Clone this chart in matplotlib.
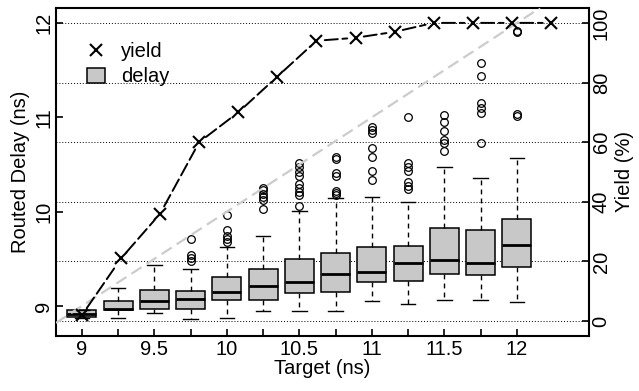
import matplotlib
matplotlib.use('Agg')
import matplotlib.pyplot as plt
import matplotlib.transforms as mtransforms
from matplotlib.lines import Line2D
from matplotlib.patches import Patch

plt.rcParams['font.family'] = ['Liberation Sans', 'DejaVu Sans']

# routed delay per target (ns)
targets = [9.0, 9.25, 9.5, 9.75, 10.0, 10.25, 10.5, 10.75, 11.0, 11.25, 11.5, 11.75, 12.0]
q1 = [8.883, 8.955, 8.965, 8.965, 9.060, 9.060, 9.141, 9.151, 9.251, 9.262, 9.342, 9.329, 9.410]
med = [8.915, 8.970, 9.056, 9.071, 9.148, 9.209, 9.254, 9.336, 9.360, 9.453, 9.488, 9.452, 9.647]
q3 = [8.958, 9.050, 9.166, 9.159, 9.304, 9.392, 9.501, 9.558, 9.622, 9.633, 9.824, 9.806, 9.922]
whislo = [8.875, 8.876, 8.923, 8.865, 8.873, 8.951, 8.951, 8.951, 9.050, 9.024, 9.060, 9.064, 9.046]
whishi = [8.962, 9.194, 9.438, 9.392, 9.622, 9.742, 10.010, 10.145, 10.155, 10.106, 10.474, 10.357, 10.569]
fliers = [
    [],
    [],
    [],
    [9.714, 9.537, 9.505, 9.477],
    [9.961, 9.806, 9.742, 9.710, 9.675],
    [10.025, 10.12, 10.16, 10.19, 10.23, 10.25],
    [10.06, 10.18, 10.21, 10.25, 10.29, 10.38, 10.42, 10.47, 10.52],
    [10.58, 10.56, 10.41, 10.38, 10.22, 10.20, 10.18],
    [10.898, 10.866, 10.834, 10.678, 10.583, 10.431, 10.333],
    [11.0, 10.513, 10.477, 10.435, 10.318, 10.272, 10.237],
    [11.025, 10.954, 10.858, 10.76, 10.731, 10.643],
    [11.58, 11.44, 11.15, 11.10, 11.05, 10.73],
    [11.92, 11.90, 11.03, 11.01],
]

# yield (%)
yield_pct = [2, 21, 36, 60, 70, 82, 94, 95, 97, 100, 100, 100, 100]

xtick_labels = ['9', '', '9.5', '', '10', '', '10.5', '', '11', '', '11.5', '', '12']
delay_ticks = [9, 10, 11, 12]
yield_ticks = [0, 20, 40, 60, 80, 100]

fs = 14.5

fig = plt.figure(figsize=(6.39, 3.91), dpi=100)
rect = [0.0876, 0.1407, 0.8341, 0.8389]
ax = fig.add_axes(rect)
ay = fig.add_axes(rect, facecolor='none')

# horizontal dotted lines at the yield ticks
trans = mtransforms.blended_transform_factory(ax.transAxes, ay.transData)
for v in yield_ticks:
    ax.add_line(Line2D([0, 1], [v, v], transform=trans, color='black',
                       lw=0.7, linestyle=(0, (1, 2)), zorder=0.5))

stats = []
for i in range(len(targets)):
    stats.append(dict(med=med[i], q1=q1[i], q3=q3[i], whislo=whislo[i],
                      whishi=whishi[i], fliers=fliers[i]))
ax.bxp(stats, positions=targets, widths=0.2, capwidths=0.1, patch_artist=True,
       manage_ticks=False,
       boxprops=dict(facecolor='#c8c8c8', edgecolor='black', linewidth=1.1),
       medianprops=dict(color='black', linewidth=2),
       whiskerprops=dict(color='black', linewidth=1, linestyle=(0, (3.5, 3))),
       capprops=dict(color='black', linewidth=1),
       flierprops=dict(marker='o', markerfacecolor='none', markeredgecolor='black',
                       markersize=5.5, markeredgewidth=0.9))

# delay == target reference
ax.axline((targets[0], targets[0]), slope=1, color='#cccccc', lw=1.6,
          dashes=(5.4, 2.7), zorder=3)

ax.set_xlim(8.821, 12.497)
ax.set_ylim(8.682, 12.159)
ax.set_xticks(targets)
ax.set_xticklabels(xtick_labels, fontsize=fs)
ax.set_yticks(delay_ticks)
ax.set_yticklabels([str(t) for t in delay_ticks], fontsize=fs, rotation=90, va='center')
ax.tick_params(direction='in', length=5, width=1.2, pad=3)
ax.tick_params(axis='y', pad=2)
for s in ax.spines.values():
    s.set_linewidth(1.5)
ax.set_xlabel('Target (ns)', fontsize=fs, labelpad=0)
ax.set_ylabel('Routed Delay (ns)', fontsize=fs, labelpad=3)

# yield on its own scale, line broken around the points
for i in range(len(targets) - 1):
    ay.annotate('', xy=(targets[i + 1], yield_pct[i + 1]), xytext=(targets[i], yield_pct[i]),
                arrowprops=dict(arrowstyle='-', color='black', lw=1.4,
                                linestyle=(0, (6.7, 2.4)), shrinkA=6, shrinkB=6))
ay.plot(targets, yield_pct, color='black', ls='none', marker='x', ms=8, mew=1.5)
ay.set_xlim(8.834, 12.243)
ay.set_ylim(-5, 105)
ay.xaxis.set_visible(False)
ay.yaxis.tick_right()
ay.yaxis.set_label_position('right')
ay.set_yticks(yield_ticks)
ay.set_yticklabels([str(t) for t in yield_ticks], fontsize=fs, rotation=90, va='center')
ay.tick_params(direction='in', length=5, width=1.2, pad=2)
for s in ay.spines.values():
    s.set_visible(False)
ay.set_ylabel('Yield (%)', fontsize=fs, labelpad=3)

handles = [Line2D([], [], marker='x', color='black', ls='none', ms=8, mew=1.5),
           Patch(facecolor='#c8c8c8', edgecolor='black', linewidth=1.1)]
ay.legend(handles, ['yield', 'delay'], loc='upper left', bbox_to_anchor=(0.058, 0.895),
          frameon=False, fontsize=fs, handlelength=0.9, handleheight=0.75,
          handletextpad=0.8, labelspacing=0.3, borderaxespad=0, borderpad=0)

fig.savefig('out.png', dpi=100)
